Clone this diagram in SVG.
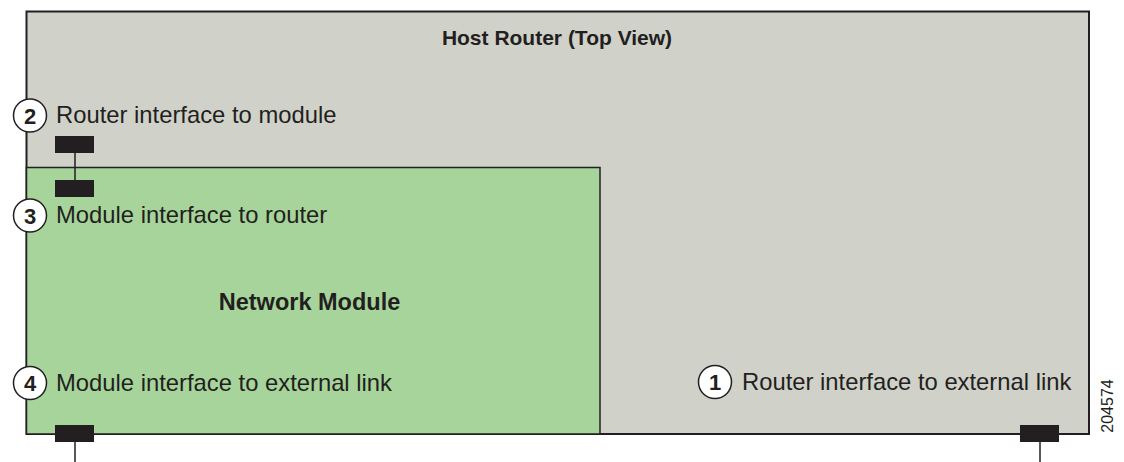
<svg xmlns="http://www.w3.org/2000/svg" width="1124" height="462" viewBox="0 0 1124 462">
<style>
text{font-family:"Liberation Sans",Arial,sans-serif;fill:#231f20}
.lbl{font-size:23.8px}
.bold{font-weight:bold}
.num{font-size:22px;font-weight:bold;text-anchor:middle}
.circ{fill:#fff;stroke:#231f20;stroke-width:1.5}
.port{fill:#231f20}
.ln{stroke:#231f20;stroke-width:1.5;fill:none}
</style>
<g id="host-router">
<rect x="26.5" y="11.5" width="1062.5" height="422.5" fill="#d0d1c9" stroke="#231f20" stroke-width="2"/>
<text class="bold" x="557" y="45" font-size="21" text-anchor="middle">Host Router (Top View)</text>
</g>
<g id="network-module">
<rect x="26.5" y="167.5" width="573.5" height="266.5" fill="#a6d49b" stroke="#231f20" stroke-width="1.5"/>
<text class="bold" x="309.5" y="310" font-size="23.5" text-anchor="middle">Network Module</text>
</g>
<g id="connectors">
<line class="ln" x1="75" y1="153" x2="75" y2="180"/>
<line class="ln" x1="75" y1="442" x2="75" y2="462"/>
<line class="ln" x1="1040" y1="442" x2="1040" y2="462"/>
</g>
<g id="port-2"><rect class="port" x="55" y="136" width="39" height="17"/></g>
<g id="port-3"><rect class="port" x="55" y="180" width="39" height="17"/></g>
<g id="port-4"><rect class="port" x="55" y="425" width="39" height="17"/></g>
<g id="port-1"><rect class="port" x="1020" y="425" width="39" height="17"/></g>
<g id="label-2">
<circle class="circ" cx="30" cy="115.5" r="16.5"/>
<text class="num" x="30" y="123.5">2</text>
<text class="lbl" x="56" y="123">Router interface to module</text>
</g>
<g id="label-3">
<circle class="circ" cx="30" cy="215.5" r="16.5"/>
<text class="num" x="30" y="223.5">3</text>
<text class="lbl" x="56" y="223">Module interface to router</text>
</g>
<g id="label-4">
<circle class="circ" cx="30" cy="383" r="16.5"/>
<text class="num" x="30" y="391">4</text>
<text class="lbl" x="56" y="391">Module interface to external link</text>
</g>
<g id="label-1">
<circle class="circ" cx="715" cy="382" r="16.5"/>
<text class="num" x="715" y="390">1</text>
<text class="lbl" x="742" y="390">Router interface to external link</text>
</g>
<text x="1113" y="406" font-size="16" text-anchor="middle" transform="rotate(-90 1113 406)">204574</text>
</svg>
